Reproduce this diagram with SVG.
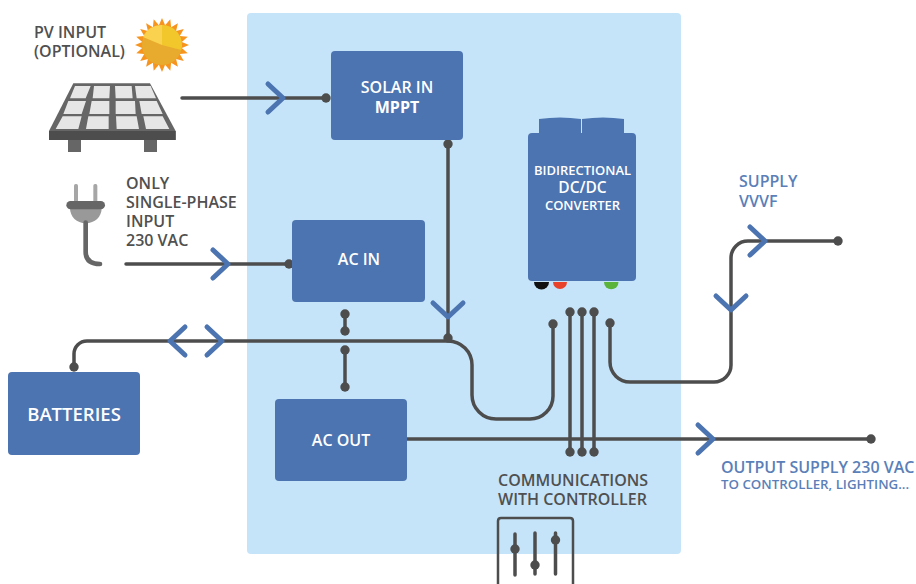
<svg xmlns="http://www.w3.org/2000/svg" width="916" height="584" viewBox="0 0 916 584">
<style>
text{font-family:"Open Sans","Noto Sans",sans-serif;font-weight:600}
.n{fill:#4c74b0}
.w{fill:#fff;text-anchor:middle}
.d{fill:#505050;font-size:16px}
.b{fill:#5b7fb8;font-size:16px}
.l{fill:none;stroke:#4d4d4d;stroke-width:3.5;stroke-linecap:round}
.a{fill:none;stroke:#4c74b0;stroke-width:5;stroke-linecap:round;stroke-linejoin:round}
.c{fill:#e6e6e6}
.p{fill:#4d4d4d}
</style>
<defs>
<circle id="dot" r="4.7" class="p"/>
</defs>
<rect id="panel" x="247" y="13" width="434" height="541" rx="4" fill="#c5e4fa"/>
<g id="pv-input">
<text class="d" x="34" y="38">PV INPUT</text>
<text class="d" x="34" y="57">(OPTIONAL)</text>
<g transform="translate(162 45)">
<polygon fill="#f7941d" points="0,-27 3.1,-19.8 8.3,-25.7 9.1,-17.8 15.9,-21.8 14.1,-14.1 21.8,-15.9 17.8,-9.1 25.7,-8.3 19.8,-3.1 27,0 19.8,3.1 25.7,8.3 17.8,9.1 21.8,15.9 14.1,14.1 15.9,21.8 9.1,17.8 8.3,25.7 3.1,19.8 0,27 -3.1,19.8 -8.3,25.7 -9.1,17.8 -15.9,21.8 -14.1,14.1 -21.8,15.9 -17.8,9.1 -25.7,8.3 -19.8,3.1 -27,0 -19.8,-3.1 -25.7,-8.3 -17.8,-9.1 -21.8,-15.9 -14.1,-14.1 -15.9,-21.8 -9.1,-17.8 -8.3,-25.7 -3.1,-19.8"/>
<circle r="20" fill="#e8ab2e"/>
<path d="M0 0V-20A20 20 0 0 1 19.3 5Z" fill="#f2c72c"/>
<path d="M0 0V-20A20 20 0 0 0 -19 -8Z" fill="#fad24f"/>
</g>
<g transform="translate(20 0) scale(.33333)">
<path d="M160 250H390L467 393V420H87V393Z" fill="#666"/>
<rect x="87" y="393" width="380" height="27" fill="#4d4d4d"/>
<rect x="144" y="420" width="39" height="36" fill="#666"/>
<rect x="372" y="420" width="39" height="36" fill="#666"/>
<path class="c" d="M165 258H212L197 295H150ZM222 258H270L268 295H218ZM285 258H335L338 295H287ZM345 258H392L408 295H350ZM145 303H198L185 342H130ZM215 303H268L268 342H208ZM287 303H345L347 342H287ZM358 303H410L428 342H365ZM128 349H185L175 387H107ZM205 349H266L266 387H198ZM288 349H350L357 387H290ZM370 349H428L448 387H378Z"/>
</g>
</g>
<g id="plug">
<g transform="translate(20 0) scale(.33333)">
<rect x="162" y="552" width="12" height="55" rx="5" fill="#a6a6a6"/>
<rect x="220" y="552" width="12" height="55" rx="5" fill="#a6a6a6"/>
<path d="M150 625H245C245 650 225 670 197 670C170 670 150 650 150 625Z" fill="#999"/>
<path d="M197 668V755Q197 792 240 792" fill="none" stroke="#666" stroke-width="14" stroke-linecap="round"/>
<rect x="139" y="603" width="116" height="25" rx="12.500" fill="#666"/>
</g>
<text class="d" x="126" y="189">ONLY</text>
<text class="d" x="126" y="208">SINGLE-PHASE</text>
<text class="d" x="126" y="227">INPUT</text>
<text class="d" x="126" y="246">230 VAC</text>
</g>
<g id="connectors">
<path class="l" d="M182 98H326"/>
<path class="l" d="M126 264H289"/>
<path class="l" d="M74 367V354A13 13 0 0 1 87 341H448A24 24 0 0 1 472 365V395A24 24 0 0 0 496 419H530A23 23 0 0 0 553 396V324"/>
<path class="l" d="M448 144V338"/>
<path class="l" d="M345 314V331M345 350V387"/>
<path class="l" d="M570 312V452M582 312V452M594 312V452"/>
<path class="l" d="M610 323V362A20 20 0 0 0 630 382H714A17 17 0 0 0 731 365V258A17 17 0 0 1 748 241H838"/>
<path class="l" d="M407 439H871"/>
<use href="#dot" x="326" y="98"/><use href="#dot" x="289" y="264"/><use href="#dot" x="74" y="367"/>
<use href="#dot" x="448" y="144"/><use href="#dot" x="448" y="338"/>
<use href="#dot" x="345" y="314"/><use href="#dot" x="345" y="331"/><use href="#dot" x="345" y="350"/><use href="#dot" x="345" y="387"/>
<use href="#dot" x="553" y="324"/><use href="#dot" x="570" y="312"/><use href="#dot" x="582" y="312"/><use href="#dot" x="594" y="312"/><use href="#dot" x="610" y="323"/>
<use href="#dot" x="570" y="452"/><use href="#dot" x="582" y="452"/><use href="#dot" x="594" y="452"/>
<use href="#dot" x="838" y="241"/><use href="#dot" x="871" y="439"/>
<path class="a" d="M268 84L283 98L268 112"/>
<path class="a" d="M213 250L228 264L213 278"/>
<path class="a" d="M185 327L170 341L185 355"/>
<path class="a" d="M207 327L222 341L207 355"/>
<path class="a" d="M433 303L448 317L463 303"/>
<path class="a" d="M716 296L731 310L746 296"/>
<path class="a" d="M750 227L765 241L750 255"/>
<path class="a" d="M698 425L713 439L698 453"/>
</g>
<g id="solar-in">
<rect class="n" x="331" y="51" width="132" height="89" rx="4"/>
<text class="w" x="397" y="93" font-size="16">SOLAR IN</text>
<text class="w" x="397" y="113" font-size="16" style="font-weight:700">MPPT</text>
</g>
<g id="ac-in">
<rect class="n" x="292" y="220" width="133" height="82" rx="4"/>
<text class="w" x="359" y="265" font-size="16">AC IN</text>
</g>
<g id="ac-out">
<rect class="n" x="275" y="399" width="132" height="82" rx="4"/>
<text class="w" x="341" y="446" font-size="16">AC OUT</text>
</g>
<g id="batteries">
<rect class="n" x="8" y="372" width="132" height="83" rx="4"/>
<text class="w" x="74" y="421" font-size="18.500">BATTERIES</text>
</g>
<g id="converter">
<path fill="#111" d="M534 282H549A7.500 7.500 0 0 1 534 282Z"/>
<path fill="#e8432a" d="M553 282H567A7 7 0 0 1 553 282Z"/>
<path fill="#5bb33a" d="M604 282H618.500A7.200 7.200 0 0 1 604 282Z"/>
<path class="n" d="M539 119Q560 116 581 119V134H539ZM582 119Q603 116 624 119V134H582Z"/>
<rect class="n" x="528" y="133" width="108" height="148" rx="4"/>
<text class="w" x="582.500" y="175" font-size="13">BIDIRECTIONAL</text>
<text class="w" x="582.500" y="193" font-size="15.500">DC/DC</text>
<text class="w" x="582.500" y="210" font-size="13">CONVERTER</text>
</g>
<g id="supply-vvvf">
<text class="b" x="739" y="187">SUPPLY</text>
<text class="b" x="739" y="207">VVVF</text>
</g>
<g id="output-supply">
<text class="b" x="721" y="473">OUTPUT SUPPLY 230 VAC</text>
<text class="b" x="721" y="489" style="font-size:13.300px">TO CONTROLLER, LIGHTING...</text>
</g>
<g id="communications">
<text class="d" x="498" y="486">COMMUNICATIONS</text>
<text class="d" x="498" y="505">WITH CONTROLLER</text>
<path d="M498 590V521Q498 518 501 518H570Q573 518 573 521V590" fill="none" stroke="#4d4d4d" stroke-width="2.500"/>
<path class="l" d="M515 534V575M535 533V574M555.500 533V574"/>
<use href="#dot" x="515" y="549"/><use href="#dot" x="535" y="565"/><use href="#dot" x="555.500" y="540"/>
</g>
</svg>
